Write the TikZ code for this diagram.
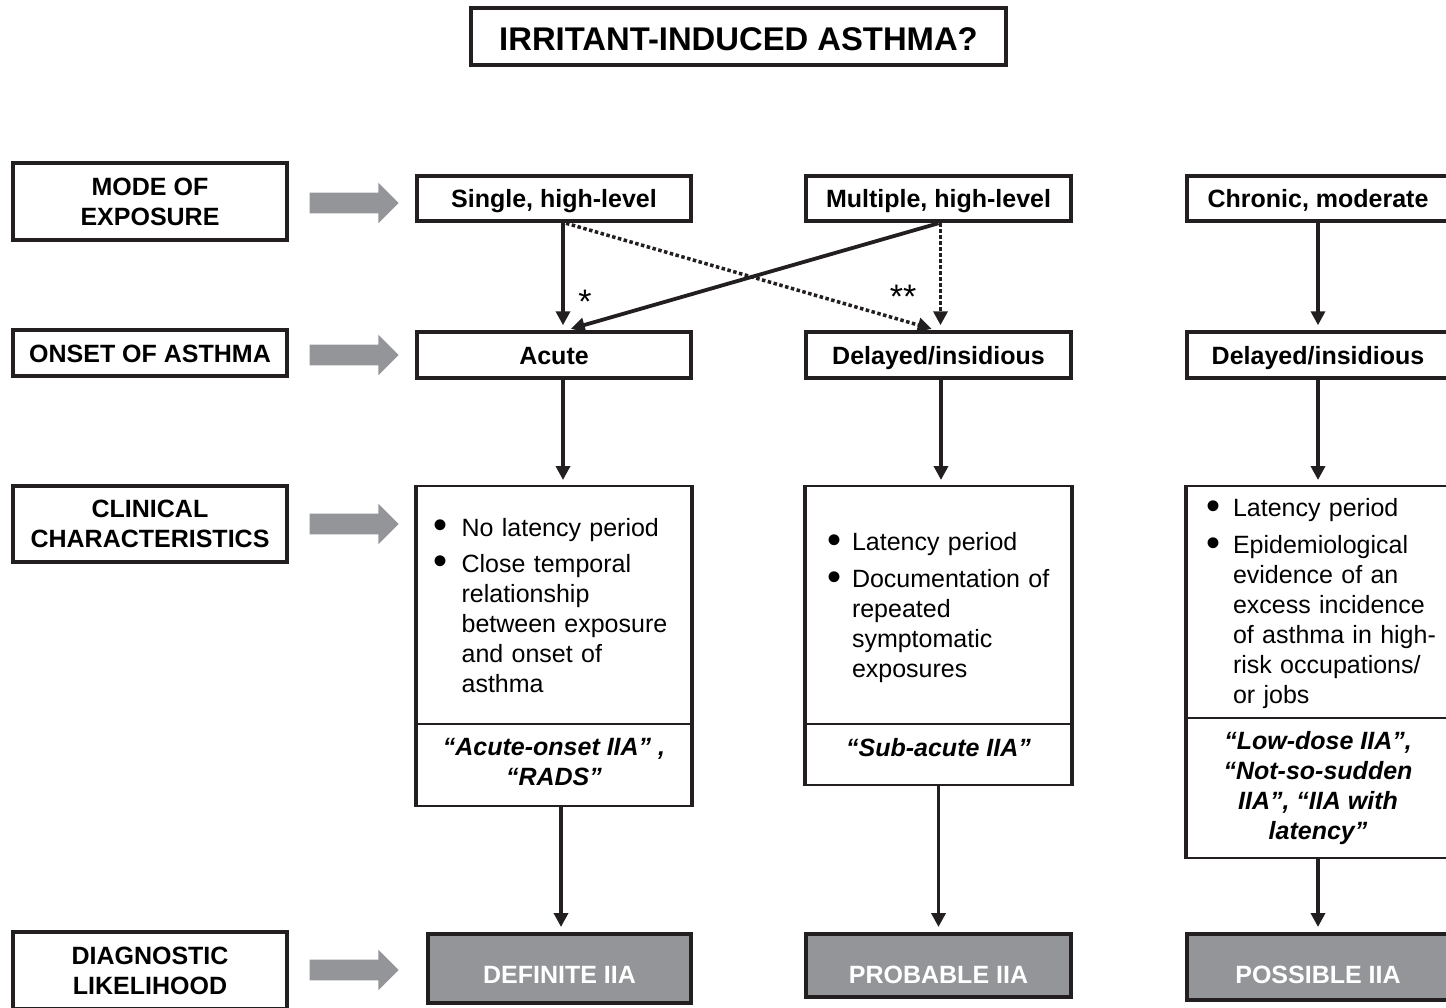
\documentclass[tikz,border=0pt]{standalone}
\usepackage{fontspec}
\setmainfont{Liberation Sans}
\usetikzlibrary{positioning,shapes.arrows,arrows.meta}
\definecolor{boxgrey}{RGB}{147,149,152}
\definecolor{ink}{RGB}{35,31,32}
\tikzset{
	labelbox/.style={rectangle, draw=ink, line width=2pt, minimum width=137pt, inner sep=0pt, align=center, font=\fontsize{12.5}{15}\selectfont\bfseries},
	expbox/.style={rectangle, draw=ink, line width=2pt, minimum height=22.75pt, inner sep=0pt, text height=9.2pt, text depth=0pt, font=\fontsize{12.5}{15}\selectfont\bfseries},
	charbox/.style={rectangle, draw=ink, line width=1pt, inner ysep=0pt, align=left, font=\fontsize{12.5}{15}\selectfont},
	namebox/.style={rectangle, draw=ink, line width=1pt, inner sep=0pt, align=center, font=\fontsize{12.5}{15}\selectfont\bfseries\itshape},
	likebox/.style={rectangle, draw=ink, fill=boxgrey, line width=2pt, inner sep=0pt, text=white, text depth=0pt, font=\fontsize{12.5}{15}\selectfont\bfseries},
	greyarrow/.style={single arrow, fill=boxgrey, draw=none, inner xsep=0pt, inner ysep=5pt, minimum height=44.5pt, minimum width=20pt, single arrow head extend=5pt, single arrow tip angle=90},
	sideline/.style={draw=ink, line width=2pt},
	conn/.style={draw=ink, line width=1.9pt, -{Triangle[length=7pt,width=7pt]}, shorten >=2.5pt},
	dotconn/.style={conn, line width=1.75pt, dash pattern=on 1.75pt off 1.25pt},
	starnode/.style={inner sep=0pt, font=\fontsize{17}{17}\selectfont}
}
\newcommand{\bul}{\smash{\raisebox{-1.3pt}{\scalebox{1.6}{\textbullet}}}}

\begin{document}
\begin{tikzpicture}[x=0.5pt, y=-0.5pt]
	\clip (0,0) rectangle (1446,1007);

	\node[labelbox, minimum width=267.5pt, minimum height=28.5pt, text height=13.7pt, text depth=0pt, font=\fontsize{16.4}{18}\selectfont\bfseries] at (738.5,36.5) (title) {IRRITANT-INDUCED ASTHMA?};

	\node[labelbox, minimum height=38.5pt] at (150,201.5) (mode) {MODE OF\\EXPOSURE};
	\node[labelbox, minimum height=23pt, text height=9.5pt, text depth=0pt] at (150,353) (onset) {ONSET OF ASTHMA};
	\node[labelbox, minimum height=38pt] at (150,524) (clin) {CLINICAL\\CHARACTERISTICS};
	\node[labelbox, minimum height=38.5pt] at (150,970.5) (diag) {DIAGNOSTIC\\LIKELIHOOD};

	\node[greyarrow] at (349,203) (arrmode) {};
	\node[greyarrow] at (349,355) (arronset) {};
	\node[greyarrow] at (349,524) (arrclin) {};
	\node[greyarrow] at (349,970) (arrdiag) {};

	\node[expbox, minimum width=137pt] at (554,198.5) (single) {Single, high-level};
	\node[expbox, minimum width=132.5pt] at (938.5,198.5) (multi) {Multiple, high-level};
	\node[expbox, minimum width=131pt] at (1318,198.5) (chronic) {Chronic, moderate};
	\node[expbox, minimum width=137pt] at (554,355) (acute) {Acute};
	\node[expbox, minimum width=132.5pt] at (938.5,355) (delay) {Delayed/insidious};
	\node[expbox, minimum width=131pt] at (1318,355) (delaychr) {Delayed/insidious};

	\node[charbox, minimum width=137pt, minimum height=119pt, inner xsep=8.3pt, text width=120.4pt] at (554,605) (char1) {%
		\begin{tabular}{@{}p{14pt}@{}l@{}}
		\bul & No latency period\\[3pt]
		\bul & Close temporal\\
		 & relationship\\
		 & between exposure\\
		 & and onset of\\
		 & asthma\\[-3pt]
		\end{tabular}};
	\node[namebox, minimum width=137pt, minimum height=41pt] at (554,765) (name1) {“Acute-onset IIA” ,\\“RADS”\rule[-3pt]{0pt}{0pt}};

	\node[charbox, minimum width=132.5pt, minimum height=119pt, inner xsep=10.8pt, text width=110.9pt] at (938.5,605) (char2) {%
		\begin{tabular}{@{}p{12.2pt}@{}l@{}}
		\bul & Latency period\\[3.5pt]
		\bul & Documentation of\\
		 & repeated\\
		 & symptomatic\\
		 & exposures\\[-3pt]
		\end{tabular}};
	\node[namebox, minimum width=132.5pt, minimum height=30.5pt, text height=9pt, text depth=7.5pt] at (938.5,754.5) (name2) {“Sub-acute IIA”};

	\node[charbox, minimum width=131pt, minimum height=116pt, inner xsep=9.8pt, text width=111.4pt] at (1318,602) (char3) {%
		\begin{tabular}{@{}p{13.2pt}@{}l@{}}
		\bul & Latency period\\[3.5pt]
		\bul & Epidemiological\\
		 & evidence of an\\
		 & excess incidence\\
		 & of asthma in high-\\
		 & risk occupations/\\
		 & or jobs\\[-2pt]
		\end{tabular}};
	\node[namebox, minimum width=131pt, minimum height=70pt] at (1318,788) (name3) {“Low-dose IIA”,\\“Not-so-sudden\\IIA”, “IIA with\\latency”};

	\draw[sideline] (char1.north west) -- (name1.south west);
	\draw[sideline] (char1.north east) -- (name1.south east);
	\draw[sideline] (char2.north west) -- (name2.south west);
	\draw[sideline] (char2.north east) -- (name2.south east);
	\draw[sideline] (char3.north west) -- (name3.south west);

	\node[likebox, minimum width=131.5pt, minimum height=34.5pt, text height=14.7pt] at (559.5,968.5) (definite) {DEFINITE IIA};
	\node[likebox, minimum width=132.5pt, minimum height=31.5pt, text height=17.5pt] at (938.5,965.5) (probable) {PROBABLE IIA};
	\node[likebox, minimum width=131pt, minimum height=33pt, text height=16pt] at (1318,967) (possible) {POSSIBLE IIA};

	\draw[conn] ([xshift=4.5pt]single.south) -- ([xshift=4.5pt]acute.north);
	\draw[dotconn] ([xshift=6pt]single.south) -- ([xshift=-1pt]delay.north);
	\draw[conn] (multi.south) -- ([xshift=6pt]acute.north);
	\draw[dotconn] ([xshift=1pt]multi.south) -- ([xshift=1pt]delay.north);
	\draw[conn] (chronic.south) -- (delaychr.north);
	\draw[conn] ([xshift=4.5pt]acute.south) -- ([xshift=4.5pt]char1.north);
	\draw[conn] ([xshift=1.25pt]delay.south) -- ([xshift=1.25pt]char2.north);
	\draw[conn] (delaychr.south) -- (char3.north);
	\draw[conn] ([xshift=3.5pt]name1.south) -- ([xshift=0.75pt]definite.north);
	\draw[conn] (name2.south) -- (probable.north);
	\draw[conn] (name3.south) -- (possible.north);

	\node[starnode] at (585,302) (star1) {*};
	\node[starnode] at (903,297) (star2) {**};
\end{tikzpicture}
\end{document}
